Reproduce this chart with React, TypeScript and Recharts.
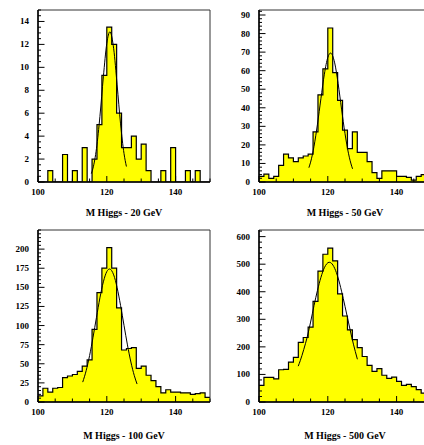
import { ComposedChart, Area, Line, XAxis, YAxis, ReferenceArea } from 'recharts';

// histogram: 35 bins from 100 to 150 GeV
const M_LOW = 100;
const M_HIGH = 150;
const N_BINS = 35;

const titles = ['M Higgs - 20 GeV', 'M Higgs - 50 GeV', 'M Higgs - 100 GeV', 'M Higgs - 500 GeV'];

const counts20 = [0, 0, 1, 0, 0, 2.4, 0, 1, 0, 3, 0, 2, 5, 9.3, 13.5, 12, 6, 3, 3, 4, 2, 3.3, 1, 0, 0, 1, 0, 3, 0, 0, 1, 0, 1, 0, 0];
const counts50 = [3, 4.2, 2, 3, 9, 15, 13, 11, 13, 14, 15, 27, 47, 61, 83, 59, 44, 28, 18, 27, 16, 16, 11, 5, 2, 6, 6, 6, 3, 3, 2.5, 1, 3, 4, 3];
const counts100 = [8, 18, 13, 18, 19, 32, 34, 36, 40, 47, 55, 95, 143, 175, 202, 175, 123, 68, 70, 71, 44, 47, 35, 28, 20, 12, 16, 13, 13, 12, 12, 10, 11, 12, 6];
const counts500 = [60, 89, 89, 84, 117, 118, 145, 162, 216, 234, 272, 365, 475, 536, 558, 512, 392, 312, 262, 226, 197, 165, 133, 111, 121, 97, 86, 90, 75, 60, 64, 56, 45, 32, 22];

// gaussian fit curves as [mass, value]
const fit20: [number, number][] = [
  [115.5, 0.73], [116, 1.22], [117, 2.92], [118, 5.71], [119, 9.17], [120, 12.09], [120.9, 13.1],
  [122, 11.62], [123, 8.47], [124, 5.07], [125, 2.49], [125.7, 1.35],
];
const fit50: [number, number][] = [
  [114.5, 7.7], [115, 10.7], [116, 19.3], [117, 31.2], [118, 44.9], [119, 58.1], [120, 67.1], [120.8, 69.5],
  [122, 64.2], [123, 53.1], [124, 39.3], [125, 26.1], [126, 15.5], [127, 8.2], [127.2, 7.1],
];
const fit100: [number, number][] = [
  [113, 26], [114, 41], [115, 60.8], [116, 84.7], [117, 110.8], [118, 136.2], [119, 157.2], [120, 170.6], [120.8, 174],
  [122, 166.3], [123, 149.6], [124, 126.4], [125, 100.3], [126, 74.7], [127, 52.3], [128, 34.4], [128.8, 23.5],
];
const fit500: [number, number][] = [
  [111.4, 130], [112, 150], [113, 190], [114, 235], [115, 290], [116, 350], [117, 405], [118, 452], [119, 487], [120.4, 507],
  [121, 504], [122, 485], [123, 450], [124, 402], [125, 347], [126, 290], [127, 233], [128, 183], [128.6, 155],
];

const xLabels = [100, 120, 140];
const yLabels20 = [0, 2, 4, 6, 8, 10, 12, 14];
const yLabels50 = [0, 10, 20, 30, 40, 50, 60, 70, 80, 90];
const yLabels100 = [0, 25, 50, 75, 100, 125, 150, 175, 200];
const yLabels500 = [0, 100, 200, 300, 400, 500, 600];

const FONT = '"Liberation Serif", "Times New Roman", serif';

function steps(max: number, step: number) {
  const out: number[] = [];
  for (let v = 0; v <= max + 1e-9; v += step) out.push(Math.round(v * 1000) / 1000);
  return out;
}

function histRows(counts: number[]) {
  const w = (M_HIGH - M_LOW) / N_BINS;
  const rows = counts.map((n, i) => ({ x: M_LOW + i * w, n }));
  rows.push({ x: M_HIGH, n: counts[counts.length - 1] });
  return rows;
}

const xTickList = steps(M_HIGH - M_LOW, 5).map(v => v + M_LOW);

function XTick(props: any) {
  const { x, y, payload } = props;
  const major = xLabels.includes(payload.value);
  return (
    <g>
      <line x1={x} x2={x} y1={y} y2={y - (major ? 6 : 3.5)} stroke="#000" strokeWidth={1} />
      {major && (
        <text x={x} y={y + 13} textAnchor="middle" fontSize={9} fontWeight="bold" fontFamily={FONT} fill="#000">
          {payload.value}
        </text>
      )}
    </g>
  );
}

function makeYTick(labels: number[]) {
  return (props: any) => {
    const { x, y, payload } = props;
    const major = labels.includes(payload.value);
    return (
      <g>
        <line x1={x} x2={x + (major ? 6.5 : 3)} y1={y} y2={y} stroke="#000" strokeWidth={1} />
        {major && (
          <text x={x - 9} y={y + 3} textAnchor="end" fontSize={9} fontWeight="bold" fontFamily={FONT} fill="#000">
            {payload.value}
          </text>
        )}
      </g>
    );
  };
}

interface PanelProps {
  left: number;
  top: number;
  title: string;
  titleY: number;
  counts: number[];
  fit: [number, number][];
  yMax: number;
  yLabels: number[];
  yMinor: number;
}

function Panel({ left, top, title, titleY, counts, fit, yMax, yLabels, yMinor }: PanelProps) {
  const data = histRows(counts);
  const fitData = fit.map(([x, f]) => ({ x, f }));
  return (
    <div style={{ position: 'absolute', left, top, width: 215, height: 225 }}>
      <ComposedChart width={215} height={225} data={data} margin={{ top: 10, right: 5, bottom: 0, left: 0 }}>
        <XAxis
          type="number" dataKey="x" domain={[M_LOW, M_HIGH]} allowDataOverflow
          ticks={xTickList} interval={0} tickSize={0} tickMargin={0} tickLine={false}
          height={43} tick={XTick} axisLine={{ stroke: '#000', strokeWidth: 1.5 }}
        />
        <YAxis
          type="number" domain={[0, yMax]} allowDataOverflow
          ticks={steps(yMax, yMinor)} interval={0} tickSize={0} tickMargin={0} tickLine={false}
          width={38} tick={makeYTick(yLabels)} axisLine={{ stroke: '#000', strokeWidth: 1.5 }}
        />
        <Area
          type="stepAfter" dataKey="n" stroke="#000" strokeWidth={1.2}
          fill="#ffff00" fillOpacity={1} isAnimationActive={false} dot={false} activeDot={false}
        />
        <Line
          data={fitData} type="monotone" dataKey="f" stroke="#000" strokeWidth={1}
          dot={false} activeDot={false} isAnimationActive={false}
        />
        <ReferenceArea x1={M_LOW} x2={M_HIGH} y1={0} y2={yMax} fill="none" stroke="#333" strokeWidth={1} />
      </ComposedChart>
      <div
        style={{
          position: 'absolute', left: 38, width: 172, top: titleY - 6, lineHeight: '12px',
          textAlign: 'center', fontFamily: FONT, fontWeight: 'bold', fontSize: 10, color: '#000', whiteSpace: 'nowrap',
        }}
      >
        {title}
      </div>
    </div>
  );
}

export default function App() {
  return (
    <div style={{ position: 'fixed', left: 0, top: 0, width: 424, height: 445, overflow: 'hidden', background: '#fff' }}>
      <Panel left={0} top={0} title={titles[0]} titleY={213} counts={counts20} fit={fit20} yMax={15} yLabels={yLabels20} yMinor={0.5} />
      <Panel left={221} top={0} title={titles[1]} titleY={213} counts={counts50} fit={fit50} yMax={92.7} yLabels={yLabels50} yMinor={2} />
      <Panel left={0} top={220} title={titles[2]} titleY={216} counts={counts100} fit={fit100} yMax={225} yLabels={yLabels100} yMinor={5} />
      <Panel left={221} top={220} title={titles[3]} titleY={216} counts={counts500} fit={fit500} yMax={624} yLabels={yLabels500} yMinor={20} />
    </div>
  );
}
